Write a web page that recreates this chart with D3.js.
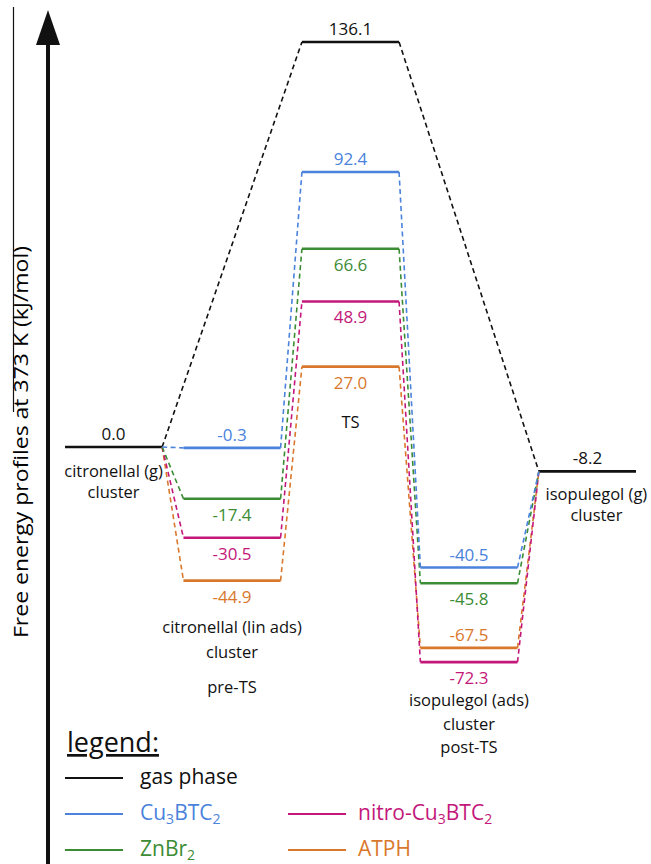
<!DOCTYPE html>
<html>
<head>
<meta charset="utf-8">
<script src="https://cdn.jsdelivr.net/npm/d3@7"></script>
<style>
  body { margin: 0; background: #fff; }
  text { font-family: "Open Sans", sans-serif; }
</style>
</head>
<body>
<div id="chart"></div>
<script>
const width = 651
const height = 864

// energies (kJ/mol) per stage: reactant, pre-TS, TS, post-TS, product
const gasPhase = [0.0, 136.1, -8.2]
const cu3btc2 = [-0.3, 92.4, -40.5]
const znbr2 = [-17.4, 66.6, -45.8]
const nitroCu = [-30.5, 48.9, -72.3]
const atph = [-44.9, 27.0, -67.5]

// label position: 1 = above the level, -1 = below
const cuSide = [1, 1, 1]
const znSide = [-1, -1, -1]
const nitroSide = [-1, -1, -1]
const atphSide = [-1, -1, 1]

const colors = { gas: "#111", cu: "#4a82dc", zn: "#3c8c34", nitro: "#c3177a", atph: "#d9782c" }

const svg = d3.select("#chart").append("svg")
  .attr("width", width).attr("height", height)

const x = d3.scaleLinear().domain([0, 4.82]).range([65, 636])
const y = d3.scaleLinear().domain([0, 136.1]).range([447, 42])
const w = 0.82

// y axis: thick arrow
svg.append("line").attr("x1", 48).attr("x2", 48).attr("y1", 40).attr("y2", height)
  .attr("stroke", "#111").attr("stroke-width", 4)
svg.append("path").attr("d", "M48,10 L36,45 L60,45 Z").attr("fill", "#111")
svg.append("line").attr("x1", 13.5).attr("x2", 13.5).attr("y1", 7).attr("y2", 412)
  .attr("stroke", "#111").attr("stroke-width", 1.2)
svg.append("text")
  .attr("transform", "translate(28,442) rotate(-90)")
  .attr("text-anchor", "middle")
  .attr("font-size", 20)
  .attr("textLength", 392).attr("lengthAdjust", "spacingAndGlyphs")
  .text("Free energy profiles at 373 K (kJ/mol)")

function dashed(x1, y1, x2, y2, color) {
  svg.append("line").attr("x1", x1).attr("y1", y1).attr("x2", x2).attr("y2", y2)
    .attr("stroke", color).attr("stroke-width", 1.6).attr("stroke-dasharray", "5,3.5")
}
function level(stage, v, color, side) {
  svg.append("line").attr("x1", x(stage)).attr("x2", x(stage + w))
    .attr("y1", y(v)).attr("y2", y(v))
    .attr("stroke", color).attr("stroke-width", 2.6)
  svg.append("text")
    .attr("x", x(stage + w / 2))
    .attr("y", side > 0 ? y(v) - 7 : y(v) + 22)
    .attr("text-anchor", "middle").attr("font-size", 17).attr("fill", color)
    .text(v.toFixed(1))
}

// gas phase profile
dashed(x(w), y(gasPhase[0]), x(2), y(gasPhase[1]), colors.gas)
dashed(x(2 + w), y(gasPhase[1]), x(4), y(gasPhase[2]), colors.gas)
level(0, gasPhase[0], colors.gas, 1)
level(2, gasPhase[1], colors.gas, 1)
level(4, gasPhase[2], colors.gas, 1)

// catalyst profiles
const profiles = [
  [atph, colors.atph, atphSide],
  [nitroCu, colors.nitro, nitroSide],
  [znbr2, colors.zn, znSide],
  [cu3btc2, colors.cu, cuSide]
]
profiles.forEach(([vals, c]) => {
  dashed(x(w), y(gasPhase[0]), x(1), y(vals[0]), c)
  dashed(x(1 + w), y(vals[0]), x(2), y(vals[1]), c)
  dashed(x(2 + w), y(vals[1]), x(3), y(vals[2]), c)
  dashed(x(3 + w), y(vals[2]), x(4), y(gasPhase[2]), c)
})
profiles.forEach(([vals, c, side]) => {
  vals.forEach((v, i) => level(i + 1, v, c, side[i]))
})

// stage captions
const captions = [
  { stage: 0, top: gasPhase[0], lines: ["citronellal (g)", "cluster"], dy: [30, 51] },
  { stage: 1, top: atph[0], lines: ["citronellal (lin ads)", "cluster", "pre-TS"], dy: [52, 77, 112] },
  { stage: 2, top: atph[1], lines: ["TS"], dy: [61] },
  { stage: 3, top: nitroCu[2], lines: ["isopulegol (ads)", "cluster", "post-TS"], dy: [44, 68, 91] },
  { stage: 4, top: gasPhase[2], lines: ["isopulegol (g)", "cluster"], dy: [29, 50] }
]
captions.forEach(cap => {
  cap.lines.forEach((t, i) => {
    svg.append("text")
      .attr("x", x(cap.stage + w / 2) + (cap.stage === 4 ? 9 : 0))
      .attr("y", y(cap.top) + cap.dy[i])
      .attr("text-anchor", "middle").attr("font-size", 16.5).attr("fill", "#111")
      .text(t)
  })
})

// legend
svg.append("text").attr("x", 67).attr("y", 752).attr("font-size", 27)
  .attr("text-decoration", "underline").attr("fill", "#111").text("legend:")
const legendItems = [
  { name: ["gas phase"], color: colors.gas, col: 0, row: 0 },
  { name: ["Cu", "3", "BTC", "2"], color: colors.cu, col: 0, row: 1 },
  { name: ["ZnBr", "2"], color: colors.zn, col: 0, row: 2 },
  { name: ["nitro-Cu", "3", "BTC", "2"], color: colors.nitro, col: 1, row: 1 },
  { name: ["ATPH"], color: colors.atph, col: 1, row: 2 }
]
legendItems.forEach(it => {
  const lx = it.col ? 288 : 65
  const ly = 778 + it.row * 36
  svg.append("line").attr("x1", lx).attr("x2", lx + 58).attr("y1", ly).attr("y2", ly)
    .attr("stroke", it.color).attr("stroke-width", 2)
  const t = svg.append("text").attr("x", lx + (it.col ? 70 : 75)).attr("y", ly + 6)
    .attr("font-size", 21).attr("fill", it.color)
  it.name.forEach((p, i) => {
    const isSub = i % 2 === 1
    t.append("tspan").attr("font-size", isSub ? 14 : 21)
      .attr("dy", isSub ? 4 : (i > 0 ? -4 : 0)).text(p)
  })
})
</script>
</body>
</html>
